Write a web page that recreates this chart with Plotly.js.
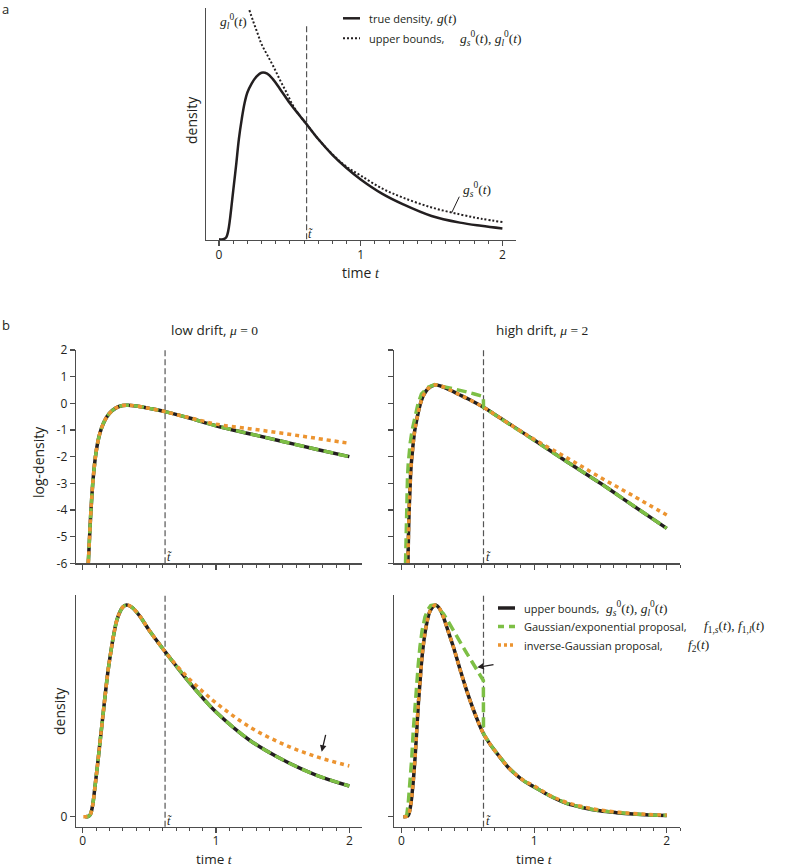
<!DOCTYPE html>
<html><head><meta charset="utf-8">
<script src="https://cdn.plot.ly/plotly-3.0.1.min.js"></script>
<style>html,body{margin:0;padding:0;background:#fff}#chart{width:787px;height:868px}</style>
</head><body><div id="chart"></div>
<script>
// ---------------- data ----------------
const tTilde = 0.618;
const xTicks = [0, 1, 2];
const xTickLabels = ['0', '1', '2'];
const logTicks = [-6, -5, -4, -3, -2, -1, 0, 1, 2];
const logTickLabels = ['-6', '-5', '-4', '-3', '-2', '-1', '0', '1', '2'];
const densTicks = [0];
const densTickLabels = ['0'];

// panel a: true density g(t) and upper bounds g_s^0, g_l^0
const tA = [0, 0.03, 0.05, 0.06, 0.07, 0.08, 0.09, 0.1, 0.12, 0.14, 0.16, 0.18, 0.2, 0.23, 0.26, 0.3, 0.34, 0.38, 0.43, 0.5, 0.57, 0.618, 0.7, 0.8, 0.9, 1.0, 1.15, 1.3, 1.5, 1.7, 1.85, 2.0];
const gTrue = [0, 0, 0.01, 0.03, 0.07, 0.13, 0.2, 0.27, 0.41, 0.56, 0.67, 0.76, 0.82, 0.87, 0.905, 0.93, 0.925, 0.895, 0.84, 0.76, 0.69, 0.643, 0.56, 0.472, 0.398, 0.334, 0.255, 0.195, 0.13, 0.093, 0.075, 0.06];
const tABound = [0.214, 0.24, 0.27, 0.3, 0.34, 0.384, 0.43, 0.478, 0.52, 0.57, 0.618, 0.7, 0.8, 0.9, 1.0, 1.15, 1.3, 1.5, 1.7, 1.85, 2.0];
const gBound = [1.28, 1.22, 1.155, 1.09, 1.03, 0.965, 0.89, 0.817, 0.75, 0.69, 0.643, 0.56, 0.475, 0.405, 0.356, 0.284, 0.232, 0.178, 0.139, 0.115, 0.096];

// panel b, low drift (mu = 0), log-density
const tLowLog = [0.042, 0.05, 0.06, 0.07, 0.08, 0.09, 0.1, 0.12, 0.14, 0.17, 0.2, 0.25, 0.3, 0.34, 0.4, 0.5, 0.618, 0.8, 1.0, 1.25, 1.5, 1.75, 2.0];
const logLowBound = [-6, -5.2, -4.2, -3.4, -2.75, -2.25, -1.85, -1.3, -0.95, -0.6, -0.38, -0.17, -0.08, -0.07, -0.1, -0.19, -0.31, -0.55, -0.84, -1.14, -1.43, -1.72, -2.0];
const logLowF1 = [-6, -5.2, -4.2, -3.4, -2.75, -2.25, -1.85, -1.3, -0.95, -0.6, -0.38, -0.17, -0.08, -0.07, -0.1, -0.19, -0.31, -0.55, -0.84, -1.14, -1.43, -1.72, -2.0];
const tLowLogF2 = [0.042, 0.05, 0.06, 0.07, 0.08, 0.09, 0.1, 0.12, 0.14, 0.17, 0.2, 0.25, 0.3, 0.34, 0.4, 0.5, 0.618, 0.7, 0.8, 0.9, 1.0, 1.25, 1.5, 1.75, 2.0];
const logLowF2 = [-6, -5.2, -4.2, -3.4, -2.75, -2.25, -1.85, -1.3, -0.95, -0.6, -0.38, -0.17, -0.08, -0.07, -0.1, -0.19, -0.31, -0.42, -0.54, -0.66, -0.78, -0.95, -1.125, -1.31, -1.5];

// panel b, high drift (mu = 2), log-density
const tHighLog = [0.048, 0.052, 0.057, 0.063, 0.07, 0.08, 0.09, 0.1, 0.115, 0.14, 0.165, 0.2, 0.25, 0.3, 0.365, 0.43, 0.5, 0.618, 0.75, 1.0, 1.25, 1.5, 1.75, 2.0];
const logHighBound = [-6, -5, -4, -3.3, -2.5, -1.9, -1.4, -1.0, -0.6, -0.05, 0.3, 0.55, 0.69, 0.64, 0.5, 0.34, 0.17, -0.15, -0.57, -1.375, -2.2, -3.0, -3.85, -4.69];
const logHighF2 = [-6, -5, -4, -3.3, -2.5, -1.9, -1.4, -1.0, -0.6, -0.05, 0.3, 0.55, 0.69, 0.64, 0.5, 0.34, 0.17, -0.15, -0.57, -1.35, -2.05, -2.78, -3.48, -4.19];
const tHighLogF1 = [0.03, 0.035, 0.039, 0.045, 0.05, 0.057, 0.065, 0.08, 0.1, 0.125, 0.15, 0.2, 0.25, 0.3, 0.365, 0.43, 0.49, 0.55, 0.617, 0.618, 0.75, 1.0, 1.25, 1.5, 1.75, 2.0];
const logHighF1 = [-6, -4.6, -3.4, -2.75, -2.3, -1.85, -1.5, -1.0, -0.5, 0.0, 0.35, 0.6, 0.7, 0.65, 0.56, 0.5, 0.43, 0.35, 0.25, -0.15, -0.57, -1.375, -2.2, -3.0, -3.85, -4.69];

// panel b, low drift, density
const tLowDens = [0.02, 0.04, 0.05, 0.06, 0.07, 0.08, 0.09, 0.1, 0.11, 0.125, 0.14, 0.155, 0.17, 0.19, 0.205, 0.23, 0.26, 0.3, 0.33, 0.37, 0.43, 0.5, 0.618, 0.7, 0.8, 0.9, 1.0, 1.25, 1.5, 1.75, 2.0];
const densLowBound = [0, 0.001, 0.004, 0.013, 0.035, 0.07, 0.12, 0.17, 0.22, 0.3, 0.38, 0.46, 0.54, 0.64, 0.7, 0.79, 0.87, 0.92, 0.93, 0.92, 0.88, 0.818, 0.725, 0.663, 0.59, 0.522, 0.46, 0.337, 0.25, 0.183, 0.135];
const densLowF1 = [0, 0.001, 0.004, 0.013, 0.035, 0.07, 0.12, 0.17, 0.22, 0.3, 0.38, 0.46, 0.54, 0.64, 0.7, 0.79, 0.87, 0.92, 0.93, 0.92, 0.88, 0.818, 0.725, 0.663, 0.59, 0.522, 0.46, 0.337, 0.25, 0.183, 0.135];
const tLowDensF2 = [0.005, 0.02, 0.04, 0.05, 0.06, 0.07, 0.08, 0.09, 0.1, 0.11, 0.125, 0.14, 0.155, 0.17, 0.19, 0.205, 0.23, 0.26, 0.3, 0.33, 0.37, 0.43, 0.5, 0.618, 0.7, 0.8, 0.9, 1.0, 1.25, 1.5, 1.75, 2.0];
const densLowF2 = [0, 0, 0.001, 0.004, 0.013, 0.035, 0.07, 0.12, 0.17, 0.22, 0.3, 0.38, 0.46, 0.54, 0.64, 0.7, 0.79, 0.87, 0.92, 0.93, 0.92, 0.88, 0.818, 0.725, 0.667, 0.605, 0.55, 0.5, 0.395, 0.32, 0.264, 0.223];

// panel b, high drift, density
const tHighDens = [0.014, 0.04, 0.052, 0.065, 0.077, 0.09, 0.102, 0.115, 0.127, 0.14, 0.152, 0.17, 0.19, 0.21, 0.227, 0.245, 0.26, 0.285, 0.315, 0.35, 0.39, 0.44, 0.49, 0.55, 0.618, 0.68, 0.742, 0.8, 0.868, 0.93, 1.0, 1.12, 1.245, 1.37, 1.495, 1.62, 1.746, 1.87, 2.0];
const densHighBound = [0, 0.003, 0.016, 0.08, 0.19, 0.36, 0.56, 0.82, 1.07, 1.28, 1.47, 1.67, 1.82, 1.92, 1.96, 1.985, 1.99, 1.96, 1.88, 1.75, 1.6, 1.39, 1.19, 0.98, 0.78, 0.66, 0.56, 0.47, 0.39, 0.33, 0.28, 0.195, 0.125, 0.085, 0.056, 0.038, 0.025, 0.017, 0.0125];
const densHighF2 = [0, 0.003, 0.016, 0.08, 0.19, 0.36, 0.56, 0.82, 1.07, 1.28, 1.47, 1.67, 1.82, 1.92, 1.96, 1.985, 1.99, 1.96, 1.88, 1.75, 1.6, 1.39, 1.19, 0.98, 0.78, 0.66, 0.56, 0.47, 0.39, 0.335, 0.29, 0.2, 0.135, 0.093, 0.063, 0.044, 0.03, 0.021, 0.015];
const tHighDensF1 = [0.026, 0.039, 0.05, 0.064, 0.077, 0.089, 0.1, 0.114, 0.126, 0.139, 0.155, 0.177, 0.2, 0.22, 0.24, 0.26, 0.285, 0.315, 0.35, 0.39, 0.44, 0.49, 0.53, 0.566, 0.595, 0.617, 0.618, 0.68, 0.742, 0.8, 0.868, 0.93, 1.0, 1.12, 1.245, 1.37, 1.495, 1.62, 1.746, 1.87, 2.0];
const densHighF1 = [0, 0.016, 0.12, 0.31, 0.55, 0.82, 1.02, 1.25, 1.43, 1.6, 1.75, 1.88, 1.95, 1.985, 1.99, 1.98, 1.95, 1.91, 1.84, 1.75, 1.64, 1.54, 1.46, 1.38, 1.32, 1.28, 0.78, 0.66, 0.56, 0.47, 0.39, 0.33, 0.28, 0.195, 0.125, 0.085, 0.056, 0.038, 0.025, 0.017, 0.0125];

// ---------------- drawing ----------------
const W = 787, H = 868;
const px = x => x / W, py = y => 1 - y / H;
const SANS = '"Open Sans", "Noto Sans", sans-serif';
const SERIF = '"Liberation Serif", "DejaVu Serif", serif';
const INK = '#231f20', AX = '#4d4d4d', GREEN = '#7dbf45', ORANGE = '#ec9430';
const M = s => '<span style="font-family:Liberation Serif">' + s + '</span>';

function line(x, y, xa, ya, color, width, dash, shape) {
  return {x: x, y: y, xaxis: xa, yaxis: ya, type: 'scatter', mode: 'lines', hoverinfo: 'skip',
          showlegend: false, line: {color: color, width: width, dash: dash || 'solid', shape: shape || 'spline', smoothing: 1}};
}
const GD = '10px,5px', OD = '4px,4px';
const data = [
  line(tA, gTrue, 'x', 'y', INK, 2.5),
  line(tABound, gBound, 'x', 'y', INK, 2, '2px,2px'),
  line(tLowLog, logLowBound, 'x2', 'y2', INK, 3.5),
  line(tLowLog, logLowF1, 'x2', 'y2', GREEN, 3.5, GD),
  line(tLowLogF2, logLowF2, 'x2', 'y2', ORANGE, 3.5, OD),
  line(tHighLog, logHighBound, 'x3', 'y3', INK, 3.5),
  line(tHighLogF1, logHighF1, 'x3', 'y3', GREEN, 3.5, GD, 'linear'),
  line(tHighLog, logHighF2, 'x3', 'y3', ORANGE, 3.5, OD),
  line(tLowDens, densLowBound, 'x4', 'y4', INK, 3.5),
  line(tLowDens, densLowF1, 'x4', 'y4', GREEN, 3.5, GD),
  line(tLowDensF2, densLowF2, 'x4', 'y4', ORANGE, 3.5, OD),
  line(tHighDens, densHighBound, 'x5', 'y5', INK, 3.5),
  line(tHighDensF1, densHighF1, 'x5', 'y5', GREEN, 3.5, GD, 'linear'),
  line(tHighDens, densHighF2, 'x5', 'y5', ORANGE, 3.5, OD)
];

const tickFont = {family: SANS, size: 12, color: '#231f20'};
function xax(x0, x1, anchor, range, labels) {
  return {domain: [px(x0), px(x1)], anchor: anchor, range: range, showline: true, linecolor: AX, linewidth: 1.3,
          zeroline: false, showgrid: false, ticks: 'outside', ticklen: 5, tickwidth: 1.2, tickcolor: AX,
          tickmode: 'array', tickvals: xTicks, ticktext: xTickLabels, showticklabels: labels, tickfont: tickFont,
          ticklabelstandoff: -2,
          minor: {tickmode: 'linear', tick0: 0, dtick: 0.1, ticks: 'outside', ticklen: 3, tickwidth: 1, tickcolor: AX, showgrid: false},
          fixedrange: true};
}
function yax(yTop, yBot, anchor, range, tv, tt, labels) {
  const o = {domain: [py(yBot), py(yTop)], anchor: anchor, range: range, showline: true, linecolor: AX, linewidth: 1.3,
          zeroline: false, showgrid: false, fixedrange: true, tickfont: tickFont};
  if (tv) { Object.assign(o, {ticks: 'outside', ticklen: 5, tickwidth: 1.2, tickcolor: AX, tickmode: 'array', tickvals: tv, ticktext: tt, showticklabels: labels}); }
  else { Object.assign(o, {ticks: '', showticklabels: false}); }
  return o;
}

const layout = {
  width: W, height: H, margin: {l: 0, r: 0, t: 0, b: 0}, paper_bgcolor: '#fff', plot_bgcolor: 'rgba(0,0,0,0)',
  showlegend: false, font: {family: SANS, color: '#231f20'},
  xaxis: xax(206, 516, 'y', [-0.092, 2.096], true),
  yaxis: yax(8, 240, 'x', [-0.004, 1.292]),
  xaxis2: xax(76, 362, 'y2', [-0.05, 2.095], false),
  yaxis2: yax(350, 563.3, 'x2', [-6, 2], logTicks, logTickLabels, true),
  xaxis3: xax(394, 680, 'y3', [-0.057, 2.1], false),
  yaxis3: yax(350, 563.3, 'x3', [-6, 2], logTicks, logTickLabels, false),
  xaxis4: xax(76, 362, 'y4', [-0.05, 2.095], true),
  yaxis4: yax(595, 826.7, 'x4', [-0.044, 0.974], densTicks, densTickLabels, true),
  xaxis5: xax(394, 680, 'y5', [-0.057, 2.1], true),
  yaxis5: yax(595, 826.7, 'x5', [-0.094, 2.085], densTicks, densTickLabels, false),
  shapes: [], annotations: []
};

// t-tilde dashed markers
const dashLine = {color: '#555', width: 1.2, dash: '6px,3px'};
layout.shapes.push({type: 'line', layer: 'below', xref: 'x', yref: 'y', x0: tTilde, x1: tTilde, y0: 0, y1: 1.2, line: dashLine});
[['x2', 'y2 domain'], ['x3', 'y3 domain'], ['x4', 'y4 domain'], ['x5', 'y5 domain']].forEach(r => {
  layout.shapes.push({type: 'line', layer: 'below', xref: r[0], yref: r[1], x0: tTilde, x1: tTilde, y0: 0, y1: 1, line: dashLine});
});

// legend samples
function seg(x0, x1, y, color, width, dash) {
  layout.shapes.push({type: 'line', xref: 'paper', yref: 'paper', x0: px(x0), x1: px(x1), y0: py(y), y1: py(y), line: {color: color, width: width, dash: dash || 'solid'}});
}
seg(343, 360, 18.3, INK, 2.5);
seg(343, 360, 38.3, INK, 2, '2px,2px');
seg(498, 515, 608, INK, 3.5);
seg(498, 515, 626.5, GREEN, 3.5, '6px,5px');
seg(498, 515, 645, ORANGE, 3.5, '3px,3px');
// leader line for g_s^0 label
layout.shapes.push({type: 'line', xref: 'paper', yref: 'paper', x0: px(459.3), y0: py(196.7), x1: px(451.7), y1: py(212.7), line: {color: INK, width: 1}});

function ann(text, x, y, opts) {
  layout.annotations.push(Object.assign({text: text, x: px(x), y: py(y), xref: 'paper', yref: 'paper', showarrow: false,
    xanchor: 'center', yanchor: 'middle', font: {family: SANS, size: 12, color: '#231f20'}}, opts || {}));
}
const sansF = s => ({family: SANS, size: s, color: '#231f20'});
const serifF = s => ({family: SERIF, size: s, color: '#231f20'});

ann('a', 0, 9, {xanchor: 'left', font: sansF(13)});
ann('b', 0, 325, {xanchor: 'left', font: sansF(13)});
ann('density', 191, 120, {textangle: -90, font: sansF(14)});
ann('time ' + M('<i>t</i>'), 361, 273, {font: sansF(14)});
ann('log-density', 38, 462, {textangle: -90, font: sansF(14)});
ann('density', 59, 711, {textangle: -90, font: sansF(14)});
ann('time ' + M('<i>t</i>'), 214, 859, {font: sansF(13.5)});
ann('time ' + M('<i>t</i>'), 534, 859, {font: sansF(13.5)});
ann('low drift, ' + M('<i>μ</i> = 0'), 214, 330, {font: sansF(13.5)});
ann('high drift, ' + M('<i>μ</i> = 2'), 542, 330, {font: sansF(13.5)});

// t-tilde labels
[[310, 234], [169.5, 557], [488, 557], [169.5, 821], [488, 821]].forEach(p => ann('<i>t̃</i>', p[0], p[1], {font: serifF(12)}));
// curve labels in panel a
ann('<i>g</i><sub><i>l</i></sub><sup>0</sup>(<i>t</i>)', 233, 22, {font: serifF(13.5)});
ann('<i>g</i><sub><i>s</i></sub><sup>0</sup>(<i>t</i>)', 477, 189, {font: serifF(13.5)});

// legend text, panel a
ann('true density,', 367, 18.3, {xanchor: 'left', font: sansF(11)});
ann('<i>g</i>(<i>t</i>)', 435, 18.3, {xanchor: 'left', font: serifF(13.5)});
ann('upper bounds,', 367, 38.3, {xanchor: 'left', font: sansF(11)});
ann('<i>g</i><sub><i>s</i></sub><sup>0</sup>(<i>t</i>), <i>g</i><sub><i>l</i></sub><sup>0</sup>(<i>t</i>)', 458, 38.3, {xanchor: 'left', font: serifF(13.5)});
// legend text, panel b
ann('upper bounds,', 521.7, 608, {xanchor: 'left', font: sansF(11)});
ann('<i>g</i><sub><i>s</i></sub><sup>0</sup>(<i>t</i>), <i>g</i><sub><i>l</i></sub><sup>0</sup>(<i>t</i>)', 604, 608, {xanchor: 'left', font: serifF(13.5)});
ann('Gaussian/exponential proposal,', 521.7, 626.5, {xanchor: 'left', font: sansF(11)});
ann('<i>f</i><sub>1,<i>s</i></sub>(<i>t</i>), <i>f</i><sub>1,<i>l</i></sub>(<i>t</i>)', 702, 626.5, {xanchor: 'left', font: serifF(13.5)});
ann('inverse-Gaussian proposal,', 521.7, 645, {xanchor: 'left', font: sansF(11)});
ann('<i>f</i><sub>2</sub>(<i>t</i>)', 686, 645, {xanchor: 'left', font: serifF(13.5)});

// arrows
function arrow(hx, hy, tx, ty) {
  layout.annotations.push({text: '', x: px(hx), y: py(hy), xref: 'paper', yref: 'paper', showarrow: true,
    ax: tx - hx, ay: ty - hy, axref: 'pixel', ayref: 'pixel', arrowhead: 2, arrowsize: 1, arrowwidth: 1.3, arrowcolor: INK, standoff: 0});
}
arrow(321.7, 751.7, 326, 733.3);
arrow(477.3, 667.3, 495, 664.3);

Plotly.newPlot('chart', data, layout, {staticPlot: true, displayModeBar: false});
</script></body></html>
